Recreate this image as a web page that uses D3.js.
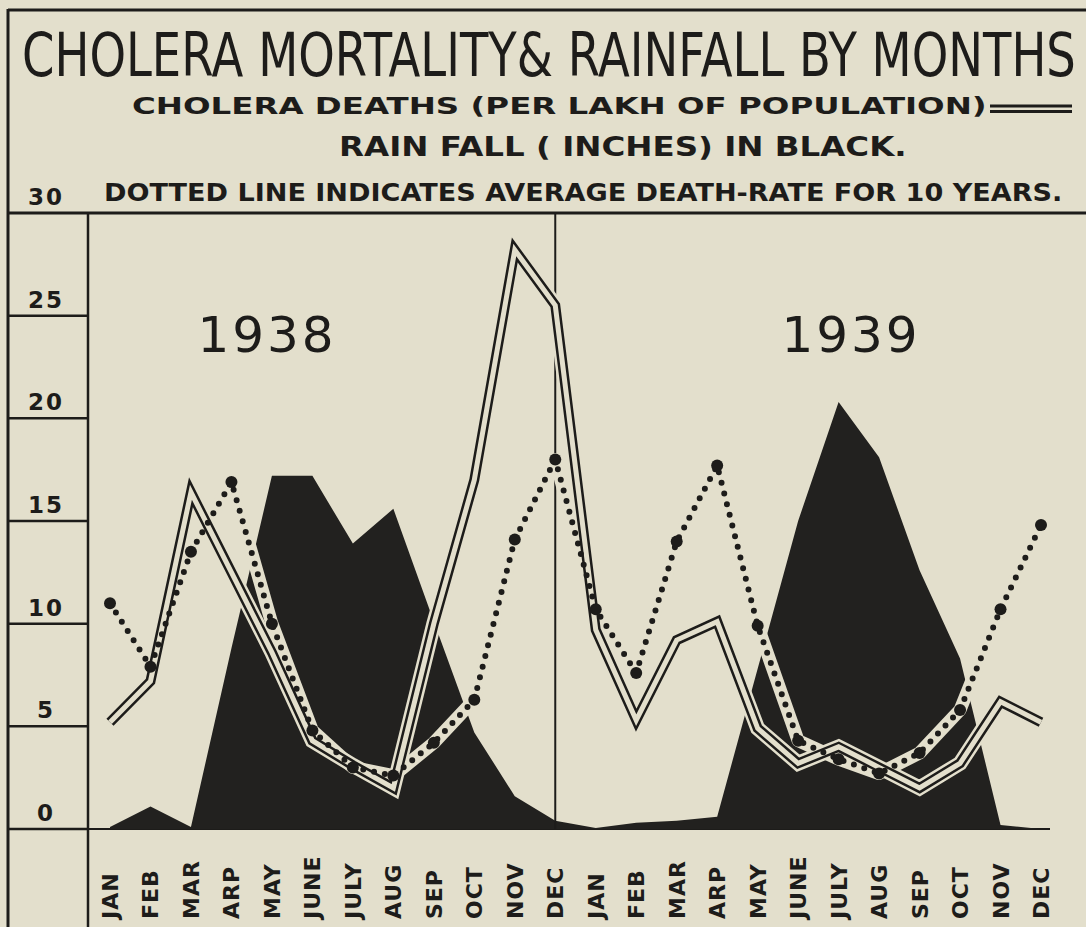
<!DOCTYPE html>
<html>
<head>
<meta charset="utf-8">
<script src="https://cdn.jsdelivr.net/npm/d3@7"></script>
<style>
  html, body { margin: 0; padding: 0; background: #e3dfcc; }
  svg { display: block; }
</style>
</head>
<body>
<svg id="chart" width="1086" height="927"></svg>
<script>
// month names as lettered on the chart (two years side by side)
var months = ["JAN","FEB","MAR","ARP","MAY","JUNE","JULY","AUG","SEP","OCT","NOV","DEC"];
var monthLabels = months.concat(months);
var years = ["1938", "1939"];
var yTicks = [0, 5, 10, 15, 20, 25, 30];

// cholera deaths per lakh, Jan 1938 .. Dec 1939 (double line)
var deaths = [5.2, 7.2, 16.4, 12.5, 8.6, 4.3, 3.1, 2.0, 10.0, 17.0, 28.2, 25.5,
              9.7, 5.3, 9.2, 10.1, 4.9, 3.2, 4.0, 3.0, 2.0, 3.2, 6.2, 5.2];
// ten year average death rate (dotted line)
var average = [11.0, 7.9, 13.5, 16.9, 10.0, 4.8, 3.0, 2.6, 4.2, 6.3, 14.1, 18.0,
               10.7, 7.6, 14.0, 17.7, 9.9, 4.3, 3.4, 2.7, 3.7, 5.8, 10.7, 14.8];
// rainfall in inches (black area)
var rainfall = [0.1, 1.1, 0.1, 8.8, 17.2, 17.2, 13.9, 15.6, 10.1, 4.7, 1.6, 0.4,
                0.05, 0.3, 0.4, 0.6, 7.8, 15.0, 20.8, 18.1, 12.6, 8.3, 0.2, 0];

var ink = "#1d1c1a";
var paper = "#e3dfcc";
var svg = d3.select("#chart");

var x = d3.scalePoint()
    .domain(d3.range(monthLabels.length))
    .range([110, 1041]);
var y = d3.scaleLinear()
    .domain([0, 30])
    .range([829, 213]);

// frame
var frame = svg.append("g").attr("stroke", ink).attr("fill", "none");
frame.append("line").attr("x1", 8).attr("x2", 1086).attr("y1", 10).attr("y2", 10).attr("stroke-width", 3);
frame.append("line").attr("x1", 8).attr("x2", 8).attr("y1", 9).attr("y2", 927).attr("stroke-width", 3);
frame.append("line").attr("x1", 8).attr("x2", 1086).attr("y1", y(30)).attr("y2", y(30)).attr("stroke-width", 3);
frame.append("line").attr("x1", 88).attr("x2", 88).attr("y1", y(30)).attr("y2", 927).attr("stroke-width", 2.5);

// titles, squeezed horizontally to the width of the hand lettering
var titleFont = "'DejaVu Sans', 'Open Sans', sans-serif";
var titles = [
  {text: "CHOLERA MORTALITY& RAINFALL BY MONTHS", x: 22, y: 76, w: 1054, size: 60, weight: 400},
  {text: "CHOLERA DEATHS (PER LAKH OF POPULATION)", x: 132, y: 114, w: 855, size: 23, weight: 700},
  {text: "RAIN FALL ( INCHES) IN BLACK.", x: 339, y: 156, w: 568, size: 27, weight: 700},
  {text: "DOTTED LINE INDICATES AVERAGE DEATH-RATE FOR 10 YEARS.", x: 104, y: 201, w: 959, size: 25, weight: 700}
];
svg.append("g").selectAll("text")
  .data(titles)
  .join("text")
    .attr("font-family", titleFont)
    .attr("font-size", function(d) { return d.size; })
    .attr("font-weight", function(d) { return d.weight; })
    .attr("fill", ink)
    .text(function(d) { return d.text; })
    .attr("transform", function(d) {
      var natural = this.getComputedTextLength();
      return "translate(" + d.x + "," + d.y + ") scale(" + (d.w / natural) + ",1)";
    });

// legend double line after the second title line
svg.append("line").attr("x1", 990).attr("x2", 1072).attr("y1", 106).attr("y2", 106)
   .attr("stroke", ink).attr("stroke-width", 3);
svg.append("line").attr("x1", 990).attr("x2", 1072).attr("y1", 111.5).attr("y2", 111.5)
   .attr("stroke", ink).attr("stroke-width", 3);

// y scale box at the left
var axisG = svg.append("g");
axisG.selectAll("line")
  .data(yTicks.filter(function(d) { return d < 30; }))
  .join("line")
    .attr("x1", 8).attr("x2", 88)
    .attr("y1", function(d) { return y(d); })
    .attr("y2", function(d) { return y(d); })
    .attr("stroke", ink).attr("stroke-width", 2.5);
axisG.selectAll("text")
  .data(yTicks)
  .join("text")
    .attr("x", 46)
    .attr("y", function(d) { return y(d) - 8; })
    .attr("text-anchor", "middle")
    .attr("font-family", "'DejaVu Sans', sans-serif")
    .attr("font-weight", 700)
    .attr("font-size", 23)
    .attr("letter-spacing", 2)
    .attr("fill", ink)
    .text(function(d) { return d; });

// baseline of the chart
svg.append("line").attr("x1", 88).attr("x2", 1050).attr("y1", y(0)).attr("y2", y(0))
   .attr("stroke", ink).attr("stroke-width", 2);

// rainfall area
var area = d3.area()
    .x(function(d, i) { return x(i); })
    .y0(y(0))
    .y1(function(d) { return y(d); });
svg.append("path")
    .datum(rainfall)
    .attr("d", area)
    .attr("fill", "#22211f");

// divider between the two years
svg.append("line")
    .attr("x1", x(11)).attr("x2", x(11))
    .attr("y1", y(30)).attr("y2", y(0))
    .attr("stroke", ink).attr("stroke-width", 2);

var line = d3.line()
    .x(function(d, i) { return x(i); })
    .y(function(d) { return y(d); });

// white band of the dotted line (shows over the black rainfall)
svg.append("path")
    .datum(average)
    .attr("d", line)
    .attr("fill", "none")
    .attr("stroke", paper)
    .attr("stroke-width", 13)
    .attr("stroke-linejoin", "round");

// double line for cholera deaths
svg.append("path")
    .datum(deaths)
    .attr("d", line)
    .attr("fill", "none")
    .attr("stroke", paper)
    .attr("stroke-width", 15);
svg.append("path")
    .datum(deaths)
    .attr("d", line)
    .attr("fill", "none")
    .attr("stroke", ink)
    .attr("stroke-width", 10);
svg.append("path")
    .datum(deaths)
    .attr("d", line)
    .attr("fill", "none")
    .attr("stroke", paper)
    .attr("stroke-width", 5);

// dotted average line
svg.append("path")
    .datum(average)
    .attr("d", line)
    .attr("fill", "none")
    .attr("stroke", ink)
    .attr("stroke-width", 6)
    .attr("stroke-linecap", "round")
    .attr("stroke-dasharray", "0 11");
svg.append("g").selectAll("circle")
  .data(average)
  .join("circle")
    .attr("cx", function(d, i) { return x(i); })
    .attr("cy", function(d) { return y(d); })
    .attr("r", 6)
    .attr("fill", ink);

// year labels
svg.append("g").selectAll("text")
  .data(years)
  .join("text")
    .attr("x", function(d, i) { return i === 0 ? 267 : 851; })
    .attr("y", 352)
    .attr("text-anchor", "middle")
    .attr("font-family", "'DejaVu Sans', sans-serif")
    .attr("font-size", 50)
    .attr("letter-spacing", 3)
    .attr("fill", ink)
    .text(function(d) { return d; });

// month labels, rotated
svg.append("g").selectAll("text")
  .data(monthLabels)
  .join("text")
    .attr("transform", function(d, i) { return "translate(" + (x(i) + 8) + ",919) rotate(-90)"; })
    .attr("font-family", "'DejaVu Sans', sans-serif")
    .attr("font-weight", 700)
    .attr("font-size", 22)
    .attr("letter-spacing", 1)
    .attr("fill", ink)
    .text(function(d) { return d; });
</script>
</body>
</html>
